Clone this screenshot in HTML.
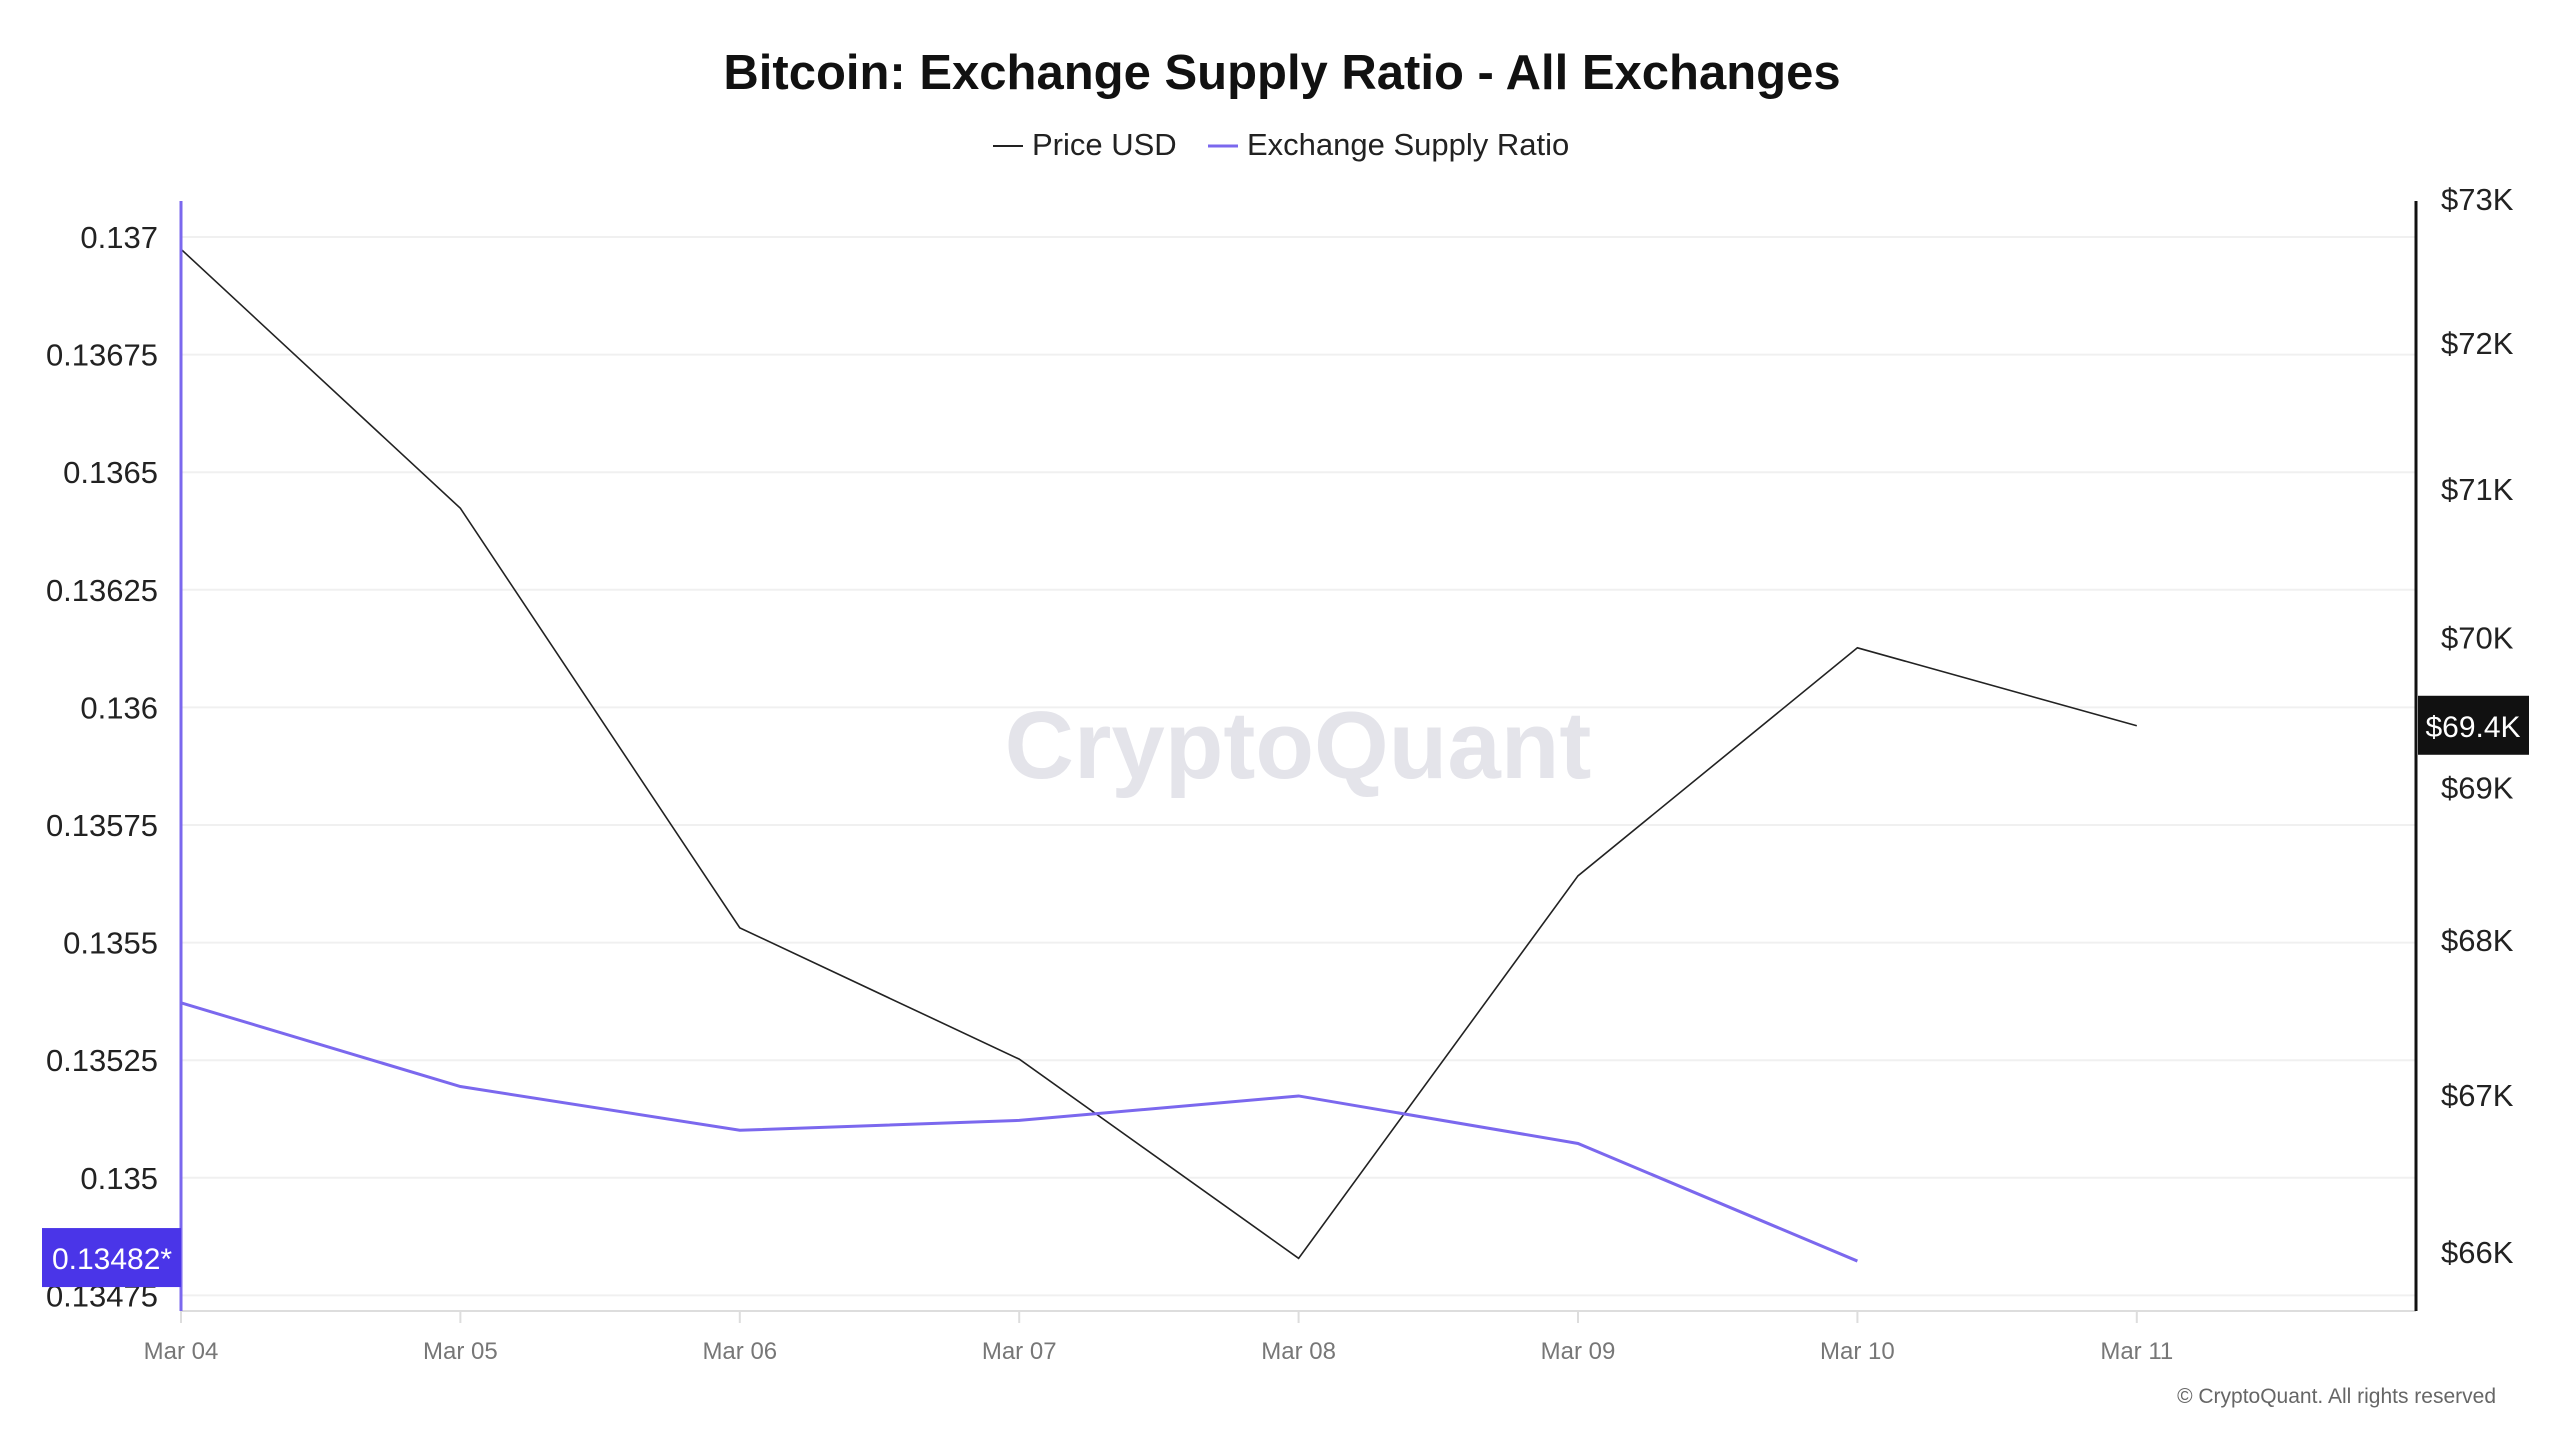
<!DOCTYPE html>
<html><head><meta charset="utf-8"><style>
html,body{margin:0;padding:0;background:#fff;}
svg{display:block;font-family:"Liberation Sans",sans-serif;}
</style></head><body>
<svg id="chart" width="2560" height="1440" viewBox="0 0 2560 1440">
<text x="1282" y="89" text-anchor="middle" font-size="49" font-weight="bold" fill="#111">Bitcoin: Exchange Supply Ratio - All Exchanges</text>
<g>
<g><line x1="993" y1="146" x2="1023" y2="146" stroke="#222" stroke-width="2"/><text x="1032" y="155" font-size="31" fill="#222">Price USD</text></g>
<g><line x1="1208" y1="146" x2="1238" y2="146" stroke="#7b68ee" stroke-width="3"/><text x="1247" y="155" font-size="31" fill="#222">Exchange Supply Ratio</text></g>
</g>
<text x="1298" y="778" text-anchor="middle" font-size="96" font-weight="bold" fill="#e4e4ea">CryptoQuant</text>
<g id="grid"></g><g id="lines"></g><g id="axes"></g>
<text x="2496" y="1403" text-anchor="end" font-size="21" fill="#666">© CryptoQuant. All rights reserved</text>
</svg>
<script>
const dates=["Mar 04","Mar 05","Mar 06","Mar 07","Mar 08","Mar 09","Mar 10","Mar 11"];
const price=[72.65,70.87,68.08,67.23,65.96,68.42,69.93,69.41];
const ratio=[0.135372,0.135194,0.135101,0.135122,0.135174,0.135073,0.134823];
const leftTicks=[0.137,0.13675,0.1365,0.13625,0.136,0.13575,0.1355,0.13525,0.135,0.13475];
const leftLabels=["0.137","0.13675","0.1365","0.13625","0.136","0.13575","0.1355","0.13525","0.135","0.13475"];
const rightTicks=[73,72,71,70,69,68,67,66];
const ratioBadge="0.13482*";
const priceBadge="$69.4K";
const NS="http://www.w3.org/2000/svg";
const X0=181,X1=2416,Y0=201,Y1=1311;
const xs=i=>181+i*279.4;
const yL=v=>237+(0.137-v)/0.00025*117.6;
const yR=v=>1252-(Math.log(v)-Math.log(66))/(Math.log(73)-Math.log(66))*(1252-199);
function mk(tag,attrs,parent,text){const e=document.createElementNS(NS,tag);for(const k in attrs)e.setAttribute(k,attrs[k]);if(text!==undefined)e.textContent=text;parent.appendChild(e);return e;}
const grid=document.getElementById('grid'),lines=document.getElementById('lines'),axes=document.getElementById('axes');
leftTicks.forEach((t,i)=>{
 const l=mk('line',{x1:X0,x2:X1,y1:yL(t),y2:yL(t),stroke:'#f0f0f0','stroke-width':2},grid);
 
 
 const tx=mk('text',{x:158,y:yL(t)+11,'text-anchor':'end','font-size':31,fill:'#222'},axes,leftLabels[i]);
 
 
});
rightTicks.forEach(t=>{
 const tx=mk('text',{x:2441,y:yR(t)+11,'font-size':31,fill:'#222'},axes,'$'+t+'K');
 
 
});
dates.forEach((d,i)=>{
 const tk=mk('line',{x1:xs(i),x2:xs(i),y1:Y1,y2:Y1+12,stroke:'#ddd','stroke-width':2},axes);
 
 
 const tx=mk('text',{x:xs(i),y:1359,'text-anchor':'middle','font-size':24,fill:'#777'},axes,d);
 
 
});
const bx=mk('line',{x1:X0,x2:X1,y1:Y1,y2:Y1,stroke:'#ddd','stroke-width':2},axes);


const la=mk('line',{x1:X0,x2:X0,y1:Y0,y2:Y1,stroke:'#7b68ee','stroke-width':3},axes);


const ra=mk('line',{x1:X1,x2:X1,y1:Y0,y2:Y1,stroke:'#111','stroke-width':3},axes);


const pp=mk('polyline',{points:price.map((v,i)=>xs(i)+','+yR(v)).join(' '),fill:'none',stroke:'#222','stroke-width':1.6},lines);


const rp=mk('polyline',{points:ratio.map((v,i)=>xs(i)+','+yL(v)).join(' '),fill:'none',stroke:'#7b68ee','stroke-width':3},lines);


const lb=mk('g',{},axes);


const ly=yL(ratio[ratio.length-1]);
mk('rect',{x:42,y:ly-33,width:139,height:59,fill:'#4a35e8'},lb);
mk('text',{x:112,y:ly+8,'text-anchor':'middle','font-size':30,fill:'#fff'},lb,ratioBadge);
const rb=mk('g',{},axes);


const ry=yR(price[price.length-1]);
mk('rect',{x:2418,y:ry-30,width:111,height:59,fill:'#111'},rb);
mk('text',{x:2473,y:ry+11,'text-anchor':'middle','font-size':30,fill:'#fff'},rb,priceBadge);
</script>
</body></html>
